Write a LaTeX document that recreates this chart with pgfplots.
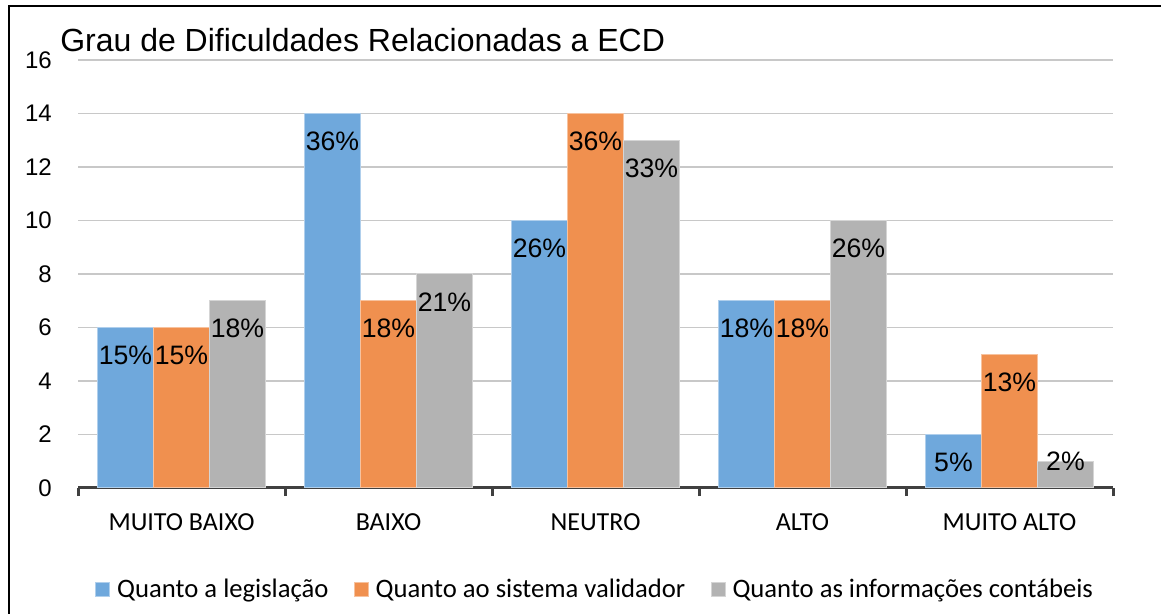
\documentclass[border=0pt]{standalone}
\usepackage{fontspec}
\setmainfont{Liberation Sans}
\newfontfamily\carlito{Carlito}
\usepackage{pgfplots}
\pgfplotsset{compat=1.18}
\definecolor{cblue}{HTML}{6FA8DC}
\definecolor{corange}{HTML}{F0904F}
\definecolor{cgray}{HTML}{B3B3B3}
\definecolor{axgray}{HTML}{404040}
\definecolor{gridgray}{HTML}{C8C8C8}
\begin{document}
\begin{tikzpicture}
\useasboundingbox (0,0) rectangle (870.75pt,460.5pt);
\draw[line width=1.5pt] (6.75pt,-20pt) rectangle (900pt,456pt);
\node[anchor=base west, inner sep=0pt, font=\fontsize{24}{28}\selectfont] at (45pt,421.5pt) {Grau de Dificuldades Relacionadas a ECD};
\begin{axis}[
  at={(58.5pt,94.5pt)}, anchor=south west,
  scale only axis, width=776.25pt, height=321pt,
  xmin=-0.5, xmax=4.5, ymin=0, ymax=16,
  clip=false,
  axis x line*=bottom, axis y line*=left,
  x axis line style={line width=2.25pt, color=axgray},
  y axis line style={draw=none},
  ytick={0,2,...,16},
  ytick style={draw=none},
  ymajorgrids, grid style={line width=1.1pt, color=gridgray},
  /pgf/number format/assume math mode=true,
  yticklabel={\fontsize{18}{18}\selectfont\pgfmathprintnumber{\tick}},
  yticklabel style={inner sep=0pt, anchor=east, xshift=-19.5pt},
  xtick={0,1,2,3,4},
  xticklabels={MUITO BAIXO, BAIXO, NEUTRO, ALTO, MUITO ALTO},
  minor xtick={-0.5,0.5,1.5,2.5,3.5,4.5},
  tick align=outside,
  major tick length=0pt, minor tick length=6pt,
  minor x tick style={line width=2.25pt, color=axgray},
  major x tick style={draw=none},
  xticklabel style={font=\carlito\fontsize{19.5}{20}\selectfont, inner sep=0pt, anchor=north, yshift=-18.75pt},
  ybar=0pt, bar width=42pt,
  point meta=explicit,
  visualization depends on={y \as \rawy},
  nodes near coords={\pgfmathprintnumber{\pgfplotspointmeta}\%},
  nodes near coords style={font=\fontsize{20}{20}\selectfont, anchor=center, inner sep=0pt, yshift={(\rawy<1.5)*21pt-21pt}, text=black},
  legend columns=3,
  legend style={draw=none, at={(0.5,-0.236)}, anchor=center, font=\carlito\fontsize{20}{20}\selectfont, /tikz/every even column/.append style={column sep=17pt}},
  legend cell align=left,
  legend image code/.code={\draw[#1] (0pt,-5.25pt) rectangle (10.5pt,5.25pt); \path[draw=none,fill=none] (0pt,0pt) rectangle (14pt,0.1pt);},
]
\addplot[fill=cblue, draw=cblue!55!white, line width=0.75pt] coordinates {(0,6)[15] (1,14)[36] (2,10)[26] (3,7)[18] (4,2)[5]};
\addplot[fill=corange, draw=corange!55!white, line width=0.75pt] coordinates {(0,6)[15] (1,7)[18] (2,14)[36] (3,7)[18] (4,5)[13]};
\addplot[fill=cgray, draw=cgray!55!white, line width=0.75pt] coordinates {(0,7)[18] (1,8)[21] (2,13)[33] (3,10)[26] (4,1)[2]};
\legend{Quanto a legislação, Quanto ao sistema validador, Quanto as informações contábeis}
\end{axis}
\end{tikzpicture}
\end{document}
